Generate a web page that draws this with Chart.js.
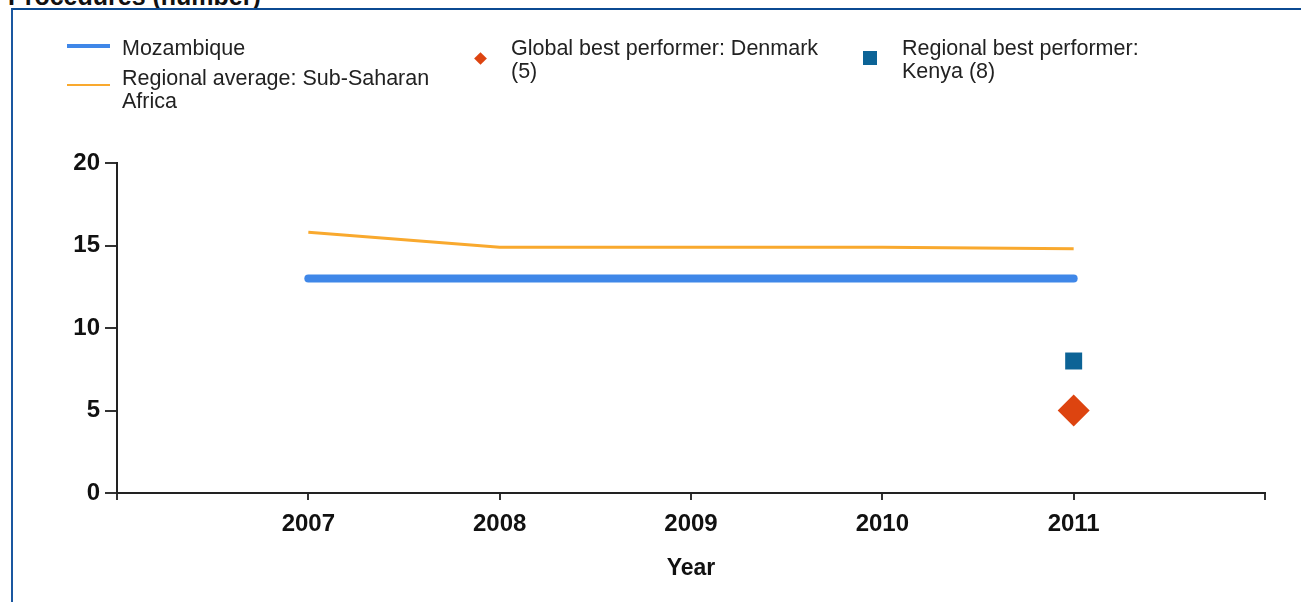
<!DOCTYPE html>
<html>
<head>
    <title>Procedures (number)</title>
    <script src="https://cdn.jsdelivr.net/npm/chart.js"></script>
    <style>
        body { margin: 0; background: #fff; font-family: "Liberation Sans", Arial, sans-serif; overflow: hidden; }
        #wrap { position: relative; width: 1301px; height: 602px; }
        #title { position: absolute; left: 8px; top: -18px; font: bold 25px "Liberation Sans", Arial, sans-serif; color: #111; white-space: nowrap; }
        #frame { position: absolute; left: 11px; top: 8px; width: 1300px; height: 600px; border-left: 2px solid #1a57a0; border-top: 2px solid #0b4a92; }
        #chartCanvas { position: absolute; left: 0; top: 0; }
        .leg { position: absolute; font-size: 21.5px; line-height: 23px; color: #222; }
        .swatch { position: absolute; }
    </style>
</head>
<body>
<div id="wrap">
    <div id="title">Procedures (number)</div>
    <div id="frame"></div>
    <canvas id="chartCanvas" width="1301" height="602"></canvas>
    <div id="legend"></div>
</div>

<script>
    // chart data
    const years = [2007, 2008, 2009, 2010, 2011];
    const mozambique = [13, 13, 13, 13, 13];
    const subSaharan = [15.8, 14.9, 14.9, 14.9, 14.8];
    const denmark = [{ year: 2011, value: 5 }];
    const kenya = [{ year: 2011, value: 8 }];
    const yTicks = [0, 5, 10, 15, 20];

    const legendLabels = [
        'Mozambique',
        'Regional average: Sub-Saharan<br>Africa',
        'Global best performer: Denmark<br>(5)',
        'Regional best performer:<br>Kenya (8)'
    ];

    // simple html legend, same look as the original
    const legendItems = [
        { left: 122, top: 37, swatch: 'left:67px;top:44px;width:43px;height:4px;background:#3f87e8;' },
        { left: 122, top: 67, swatch: 'left:67px;top:84px;width:43px;height:2px;background:#f9a92e;' },
        { left: 511, top: 37, swatch: 'left:476px;top:54px;width:9px;height:9px;background:#dd4410;transform:rotate(45deg);' },
        { left: 902, top: 37, swatch: 'left:863px;top:51px;width:14px;height:14px;background:#0c6396;' }
    ];
    const legendEl = document.getElementById('legend');
    legendItems.forEach((item, i) => {
        const sw = document.createElement('div');
        sw.className = 'swatch';
        sw.style.cssText = sw.style.cssText + item.swatch;
        legendEl.appendChild(sw);
        const txt = document.createElement('div');
        txt.className = 'leg';
        txt.style.left = item.left + 'px';
        txt.style.top = item.top + 'px';
        txt.innerHTML = legendLabels[i];
        legendEl.appendChild(txt);
    });

    const tickFont = { family: '"Liberation Sans", Arial, sans-serif', size: 24, weight: 'bold' };

    const ctx = document.getElementById('chartCanvas').getContext('2d');
    new Chart(ctx, {
        type: 'line',
        data: {
            datasets: [
                {
                    label: 'Global best performer: Denmark (5)',
                    data: denmark.map(d => ({ x: d.year, y: d.value })),
                    showLine: false,
                    pointStyle: 'rectRot',
                    pointRadius: 16,
                    backgroundColor: '#dd4410',
                    borderColor: '#dd4410',
                    borderWidth: 0
                },
                {
                    label: 'Regional best performer: Kenya (8)',
                    data: kenya.map(d => ({ x: d.year, y: d.value })),
                    showLine: false,
                    pointStyle: 'rect',
                    pointRadius: 12,
                    backgroundColor: '#0c6396',
                    borderColor: '#0c6396',
                    borderWidth: 0
                },
                {
                    label: 'Regional average: Sub-Saharan Africa',
                    data: years.map((y, i) => ({ x: y, y: subSaharan[i] })),
                    borderColor: '#f9a92e',
                    borderWidth: 3,
                    pointRadius: 0,
                    tension: 0
                },
                {
                    label: 'Mozambique',
                    data: years.map((y, i) => ({ x: y, y: mozambique[i] })),
                    borderColor: '#3f87e8',
                    borderWidth: 8,
                    borderCapStyle: 'round',
                    pointRadius: 0,
                    tension: 0
                }
            ]
        },
        options: {
            responsive: false,
            animation: false,
            layout: { padding: { top: 163, right: 36, left: 0, bottom: 0 } },
            plugins: {
                legend: { display: false },
                tooltip: { enabled: false }
            },
            scales: {
                x: {
                    type: 'linear',
                    min: 2006,
                    max: 2012,
                    afterFit: s => { s.height = 109; },
                    afterBuildTicks: s => {
                        s.ticks = [2006].concat(years, [2012]).map(v => ({ value: v }));
                    },
                    ticks: {
                        stepSize: 1,
                        color: '#111',
                        font: tickFont,
                        padding: 10,
                        maxRotation: 0,
                        callback: v => years.includes(v) ? String(v) : ''
                    },
                    grid: { drawOnChartArea: false, tickLength: 7, color: '#333', lineWidth: 2 },
                    border: { color: '#222', width: 2 },
                    title: {
                        display: true,
                        text: 'Year',
                        color: '#111',
                        font: { family: '"Liberation Sans", Arial, sans-serif', size: 23, weight: 'bold' },
                        padding: { top: 0, bottom: 20 }
                    }
                },
                y: {
                    min: 0,
                    max: 20,
                    afterFit: s => { s.width = 117; },
                    afterBuildTicks: s => {
                        s.ticks = yTicks.map(v => ({ value: v }));
                    },
                    ticks: { color: '#111', font: tickFont, padding: 5 },
                    grid: { drawOnChartArea: false, tickLength: 12, color: '#333', lineWidth: 2 },
                    border: { color: '#222', width: 2 }
                }
            }
        }
    });
</script>
</body>
</html>
